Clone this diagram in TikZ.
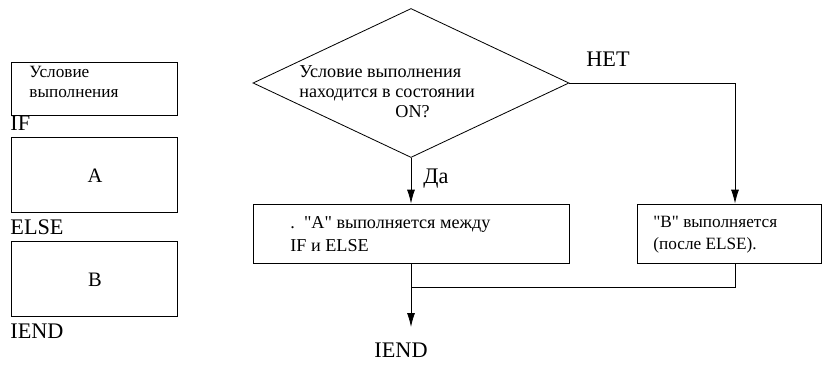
\documentclass[tikz,border=0pt]{standalone}
\usepackage{fontspec}
\setmainfont{Liberation Serif}
\usetikzlibrary{arrows.meta,calc,positioning,shapes.geometric}

\begin{document}
\begin{tikzpicture}[x=0.03cm,y=-0.03cm,>={Latex[length=4.2mm,width=2.4mm]},
    line width=0.7pt,
    every node/.style={font=\fontsize{14.7}{17.8}\selectfont,inner sep=0pt},
    big/.style={font=\fontsize{19}{22}\selectfont},
    mid/.style={font=\fontsize{17.5}{20}\selectfont},
    body/.style={font=\fontsize{15.5}{#1}\selectfont},
    blok/.style={draw,rectangle,inner sep=0pt},
    txt/.style={align=left,anchor=west}]
  \useasboundingbox (0,0) rectangle (822,365);
  % left: structure of IF / ELSE / IEND
  \draw (11,62) rectangle (177,115);
  \node[txt] (usl) at (29,82) {Условие\\выполнения};
  \node[txt,big] (kif) at (10,123) {IF};
  \draw (11,137) rectangle (177,212);
  \node[mid] (ka) at (95,176) {A};
  \node[txt,big] (kelse) at (10,227) {ELSE};
  \draw (11,241) rectangle (177,316);
  \node[mid] (kb) at (95,280) {B};
  \node[txt,big] (kiend) at (10,331) {IEND};
  % right: flowchart
  \node[diamond,draw,minimum width=316*0.03cm,minimum height=149*0.03cm,
    inner sep=0pt] (cond) at (411,83) {};
  \node[txt,body=17pt] (condtxt) at (299,92)
    {Условие выполнения\\находится в состоянии\\\hspace*{82pt}ON?};
  \node[blok,minimum width=316*0.03cm,minimum height=59*0.03cm] (boxA)
    at (411,233.5) {};
  \node[txt,body=19.5pt] (txta) at (290,234)
    {.\ \ \textquotedbl A\textquotedbl{} выполняется между\\IF и ELSE};
  \node[blok,minimum width=184*0.03cm,minimum height=59*0.03cm] (boxB)
    at (729,233.5) {};
  \node[txt,font=\fontsize{14.7}{18.7}\selectfont] (txtb) at (653,235)
    {\textquotedbl B\textquotedbl{} выполняется\\(после ELSE).};
  \node[big] (iend) at (401,350) {IEND};
  \coordinate (nobend) at (735,83);
  \coordinate (join) at (411,287);
  \draw[->] (cond.south) -- (boxA.north);
  \node[txt,big] (yes) at (423,179) {Да};
  \draw[->] (cond.east) -- (nobend) -- (nobend |- boxB.north);
  \node[big] (no) at (608,59) {НЕТ};
  \draw (boxB.south -| nobend) -- (nobend |- join) -- (join);
  \draw (boxA.south) -- (join);
  \draw[->] (join) -- (join |- 0,327);
\end{tikzpicture}
\end{document}
